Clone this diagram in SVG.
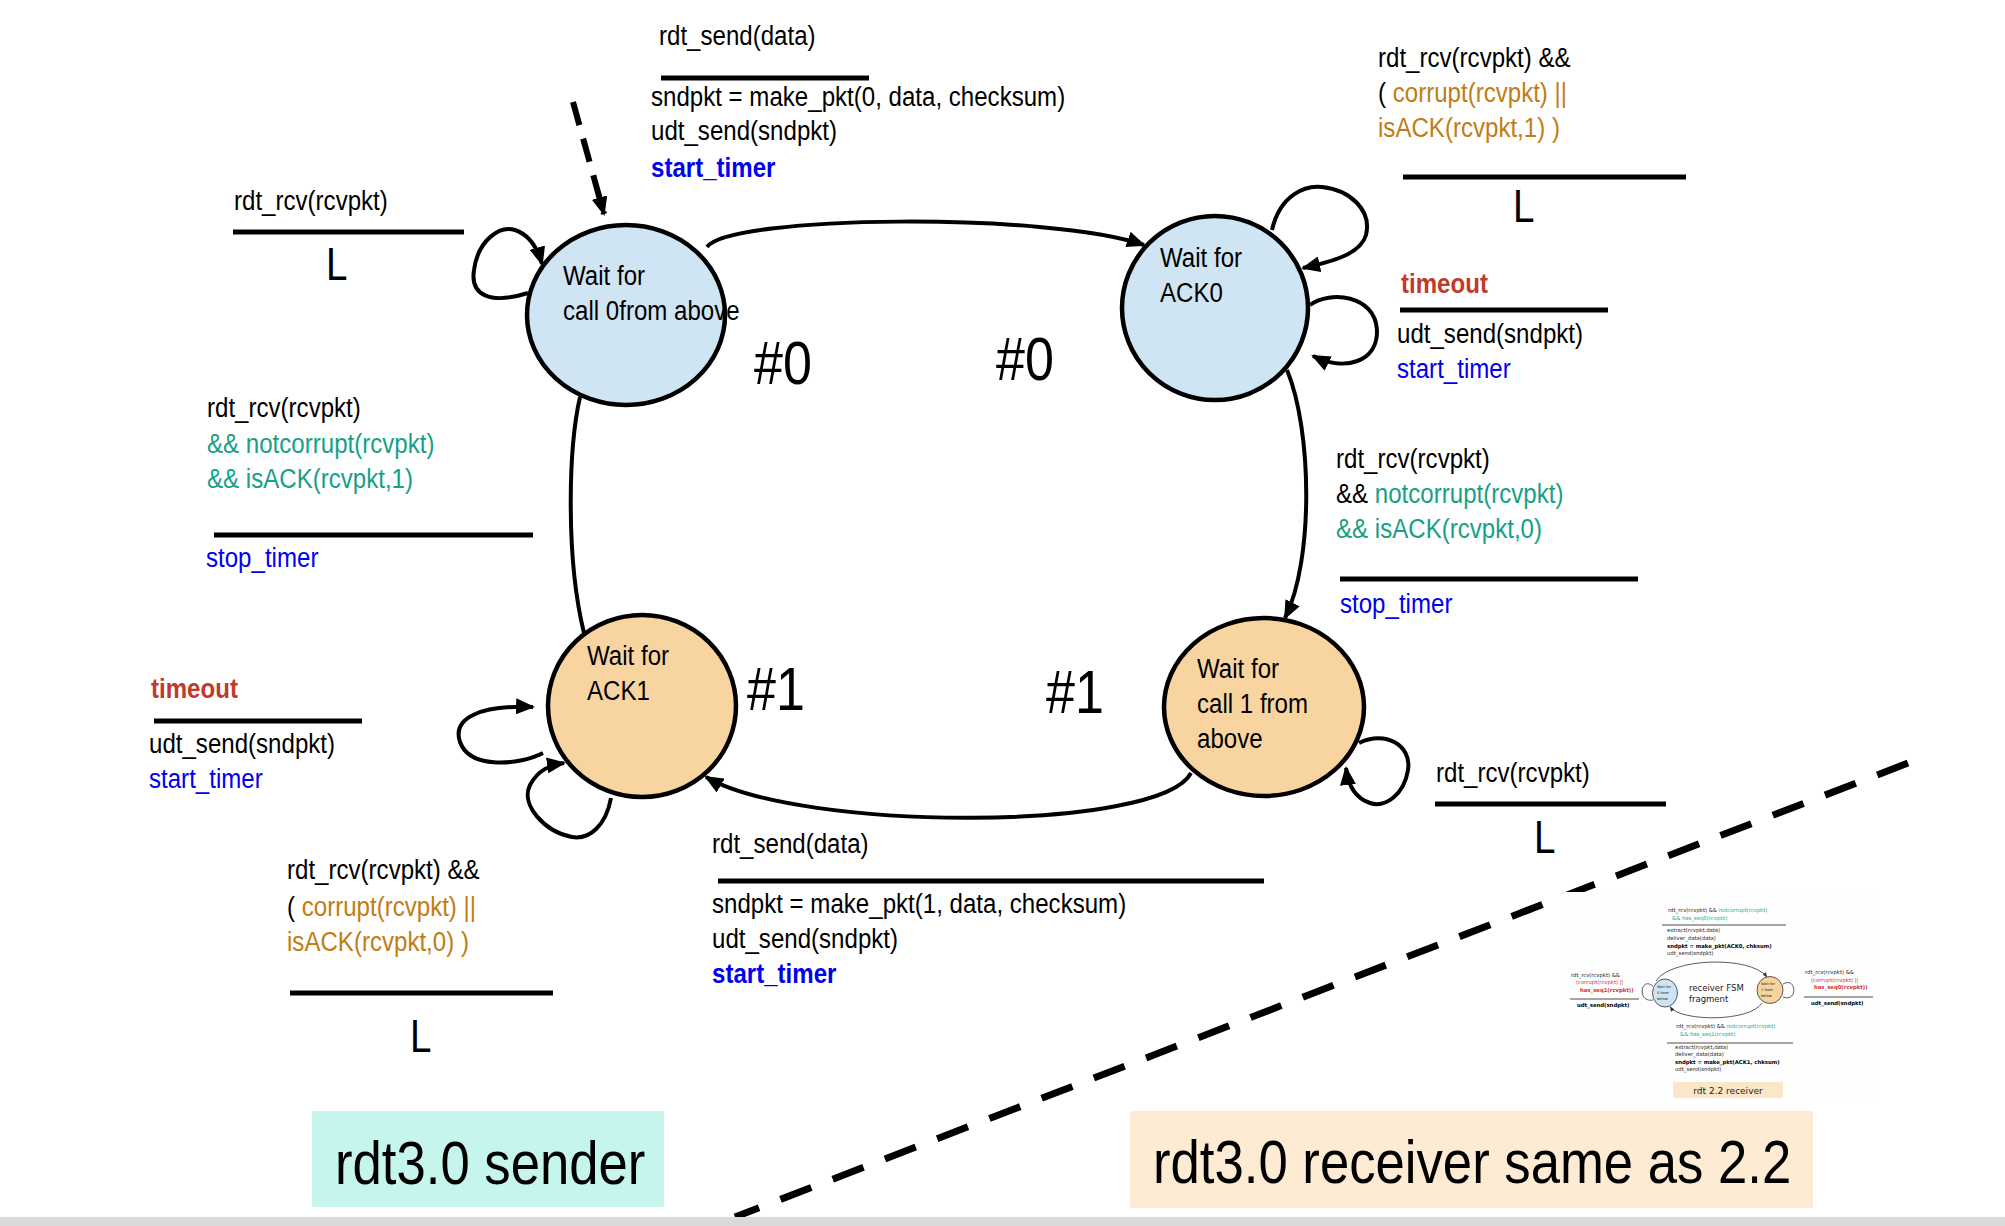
<svg xmlns="http://www.w3.org/2000/svg" width="2005" height="1226" viewBox="0 0 2005 1226">
<defs>
<style>
.t{font-family:"Liberation Sans",Arial,sans-serif;font-size:28px;fill:#000}
.b{font-weight:bold}
.blue{fill:#0000f0}
.green{fill:#17a085}
.orange{fill:#c17d14}
.red{fill:#c0392b}
.lam{font-size:46px}
.hash{font-size:62px}
.title{font-size:62px}
.bar{stroke:#000;stroke-width:5}
.edge{fill:none;stroke:#000;stroke-width:4}
.st{stroke:#000;stroke-width:4.5}
.blueN{fill:#d0e5f3}
.orangeN{fill:#f8d5a0}
.th{font-family:"DejaVu Sans",sans-serif;font-size:5.3px;fill:#222}
.thb{font-weight:bold;fill:#000}
.thg{fill:#1aa88a}
.thr{fill:#d03030}
.thbar{stroke:#222;stroke-width:0.8}
.thedge{fill:none;stroke:#333;stroke-width:0.8}
</style>
<marker id="arr" markerUnits="userSpaceOnUse" markerWidth="20" markerHeight="16" refX="17" refY="8" orient="auto">
<path d="M0,0 L19,8 L0,16 z" fill="#000"/>
</marker>
<marker id="arrs" markerUnits="userSpaceOnUse" markerWidth="5" markerHeight="4" refX="4.5" refY="2" orient="auto">
<path d="M0,0 L5,2 L0,4 z" fill="#333"/>
</marker>
</defs>
<rect width="2005" height="1226" fill="#fff"/>

<!-- divider dashed line -->
<path d="M1908,763 L735,1217" stroke="#000" stroke-width="7" stroke-dasharray="33 23" fill="none"/>

<!-- connectors -->
<g id="connectors">
<path d="M573,102 L604,214" fill="none" stroke="#000" stroke-width="6" stroke-dasharray="24 14" marker-end="url(#arr)"/>
<path class="edge" d="M707,247 C730,215 1050,212 1144,245" marker-end="url(#arr)"/>
<path class="edge" d="M1287,370 C1312,430 1314,560 1285,618" marker-end="url(#arr)"/>
<path class="edge" d="M1191,773 C1160,832 800,832 706,777" marker-end="url(#arr)"/>
<path class="edge" d="M580,397 C568,450 566,560 584,633"/>
<path class="edge" d="M528,293 C490,305 470,295 474,270 C478,240 500,225 515,230 C530,235 538,250 542,264" marker-end="url(#arr)"/>
<path class="edge" d="M1272,230 C1280,195 1305,185 1322,187 C1350,190 1372,210 1366,235 C1360,255 1330,262 1303,268" marker-end="url(#arr)"/>
<path class="edge" d="M1310,305 C1330,290 1375,295 1377,330 C1378,362 1345,372 1313,356" marker-end="url(#arr)"/>
<path class="edge" d="M1359,743 C1385,730 1412,745 1408,770 C1404,795 1385,808 1370,803 C1355,798 1348,785 1346,768" marker-end="url(#arr)"/>
<path class="edge" d="M543,753 C520,765 470,770 460,742 C452,718 480,705 533,707" marker-end="url(#arr)"/>
<path class="edge" d="M611,798 C606,825 590,840 572,837 C545,832 520,805 530,785 C538,770 550,765 564,763" marker-end="url(#arr)"/>
</g>

<!-- nodes -->
<g id="node-wait-call0">
<ellipse class="blueN st" cx="626" cy="315" rx="99" ry="90"/>
<text class="t" transform="matrix(.86 0 0 1 563 285)">Wait for</text>
<text class="t" transform="matrix(.86 0 0 1 563 320)">call 0from above</text>
</g>
<g id="node-wait-ack0">
<ellipse class="blueN st" cx="1215" cy="308" rx="93" ry="92"/>
<text class="t" transform="matrix(.86 0 0 1 1160 267)">Wait for</text>
<text class="t" transform="matrix(.86 0 0 1 1160 302)">ACK0</text>
</g>
<g id="node-wait-ack1">
<ellipse class="orangeN st" cx="642" cy="706" rx="94" ry="91"/>
<text class="t" transform="matrix(.86 0 0 1 587 665)">Wait for</text>
<text class="t" transform="matrix(.86 0 0 1 587 700)">ACK1</text>
</g>
<g id="node-wait-call1">
<ellipse class="orangeN st" cx="1264" cy="707" rx="100" ry="89"/>
<text class="t" transform="matrix(.86 0 0 1 1197 678)">Wait for</text>
<text class="t" transform="matrix(.86 0 0 1 1197 713)">call 1 from</text>
<text class="t" transform="matrix(.86 0 0 1 1197 748)">above</text>
</g>

<!-- labels -->
<g id="labels">
<text class="t" transform="matrix(.86 0 0 1 659 45)">rdt_send(data)</text>
<line class="bar" x1="661" y1="78" x2="869" y2="78"/>
<text class="t" transform="matrix(.86 0 0 1 651 106)">sndpkt = make_pkt(0, data, checksum)</text>
<text class="t" transform="matrix(.86 0 0 1 651 140)">udt_send(sndpkt)</text>
<text class="t b blue" transform="matrix(.86 0 0 1 651 177)">start_timer</text>

<text class="t" transform="matrix(.86 0 0 1 234 210)">rdt_rcv(rcvpkt)</text>
<line class="bar" x1="233" y1="232" x2="464" y2="232"/>
<text class="t lam" transform="matrix(.84 0 0 1 326 280)">L</text>

<text class="t" transform="matrix(.86 0 0 1 207 417)">rdt_rcv(rcvpkt)</text>
<text class="t green" transform="matrix(.86 0 0 1 207 453)">&amp;&amp; notcorrupt(rcvpkt)</text>
<text class="t green" transform="matrix(.86 0 0 1 207 488)">&amp;&amp; isACK(rcvpkt,1)</text>
<line class="bar" x1="214" y1="535" x2="533" y2="535"/>
<text class="t blue" transform="matrix(.86 0 0 1 206 567)">stop_timer</text>

<text class="t" transform="matrix(.86 0 0 1 1378 67)">rdt_rcv(rcvpkt) &amp;&amp;</text>
<text class="t" transform="matrix(.86 0 0 1 1378 102)">( <tspan class="orange">corrupt(rcvpkt) ||</tspan></text>
<text class="t orange" transform="matrix(.86 0 0 1 1378 137)">isACK(rcvpkt,1) )</text>
<line class="bar" x1="1403" y1="177" x2="1686" y2="177"/>
<text class="t lam" transform="matrix(.84 0 0 1 1513 222)">L</text>
<text class="t b red" transform="matrix(.86 0 0 1 1401 293)">timeout</text>
<line class="bar" x1="1400" y1="310" x2="1608" y2="310"/>
<text class="t" transform="matrix(.86 0 0 1 1397 343)">udt_send(sndpkt)</text>
<text class="t blue" transform="matrix(.86 0 0 1 1397 378)">start_timer</text>

<text class="t" transform="matrix(.86 0 0 1 1336 468)">rdt_rcv(rcvpkt)</text>
<text class="t" transform="matrix(.86 0 0 1 1336 503)">&amp;&amp; <tspan class="green">notcorrupt(rcvpkt)</tspan></text>
<text class="t green" transform="matrix(.86 0 0 1 1336 538)">&amp;&amp; isACK(rcvpkt,0)</text>
<line class="bar" x1="1340" y1="579" x2="1638" y2="579"/>
<text class="t blue" transform="matrix(.86 0 0 1 1340 613)">stop_timer</text>

<text class="t" transform="matrix(.86 0 0 1 1436 782)">rdt_rcv(rcvpkt)</text>
<line class="bar" x1="1435" y1="804" x2="1666" y2="804"/>
<text class="t lam" transform="matrix(.84 0 0 1 1534 853)">L</text>

<text class="t" transform="matrix(.86 0 0 1 712 853)">rdt_send(data)</text>
<line class="bar" x1="718" y1="881" x2="1264" y2="881"/>
<text class="t" transform="matrix(.86 0 0 1 712 913)">sndpkt = make_pkt(1, data, checksum)</text>
<text class="t" transform="matrix(.86 0 0 1 712 948)">udt_send(sndpkt)</text>
<text class="t b blue" transform="matrix(.86 0 0 1 712 983)">start_timer</text>

<text class="t b red" transform="matrix(.86 0 0 1 151 698)">timeout</text>
<line class="bar" x1="154" y1="721" x2="362" y2="721"/>
<text class="t" transform="matrix(.86 0 0 1 149 753)">udt_send(sndpkt)</text>
<text class="t blue" transform="matrix(.86 0 0 1 149 788)">start_timer</text>

<text class="t" transform="matrix(.86 0 0 1 287 879)">rdt_rcv(rcvpkt) &amp;&amp;</text>
<text class="t" transform="matrix(.86 0 0 1 287 916)">( <tspan class="orange">corrupt(rcvpkt) ||</tspan></text>
<text class="t orange" transform="matrix(.86 0 0 1 287 951)">isACK(rcvpkt,0) )</text>
<line class="bar" x1="290" y1="993" x2="553" y2="993"/>
<text class="t lam" transform="matrix(.84 0 0 1 410 1052)">L</text>

<text class="t hash" transform="matrix(.84 0 0 1 754 384)">#0</text>
<text class="t hash" transform="matrix(.84 0 0 1 996 380)">#0</text>
<text class="t hash" transform="matrix(.84 0 0 1 747 710)">#1</text>
<text class="t hash" transform="matrix(.84 0 0 1 1046 713)">#1</text>
</g>

<!-- rdt 2.2 receiver thumbnail -->
<g id="thumbnail">
<rect x="1563" y="892" width="315" height="208" fill="#fefefe"/>
<text class="th" x="1668" y="912">rdt_rcv(rcvpkt) &amp;&amp; <tspan class="thg">notcorrupt(rcvpkt)</tspan></text>
<text class="th thg" x="1672" y="920">&amp;&amp; has_seq0(rcvpkt)</text>
<line class="thbar" x1="1662" y1="925" x2="1786" y2="925"/>
<text class="th" x="1667" y="932">extract(rcvpkt,data)</text>
<text class="th" x="1667" y="940">deliver_data(data)</text>
<text class="th thb" x="1667" y="948">sndpkt = make_pkt(ACK0, chksum)</text>
<text class="th" x="1667" y="955">udt_send(sndpkt)</text>
<path class="thedge" d="M1656,981 C1670,958 1750,955 1767,977" marker-end="url(#arrs)"/>
<path class="thedge" d="M1762,1003 C1750,1022 1682,1022 1670,1007" marker-end="url(#arrs)"/>
<path class="thedge" d="M1653,986 C1640,976 1637,1003 1653,1000"/>
<path class="thedge" d="M1783,984 C1797,976 1798,1003 1783,997"/>
<ellipse cx="1665" cy="993" rx="12.5" ry="14" fill="#cfe4f3" stroke="#333" stroke-width="0.8"/>
<ellipse cx="1770" cy="990" rx="13" ry="13.5" fill="#f8d49c" stroke="#333" stroke-width="0.8"/>
<text class="th" style="font-size:3.6px" x="1657" y="988">Wait for</text>
<text class="th" style="font-size:3.6px" x="1657" y="994">0 from</text>
<text class="th" style="font-size:3.6px" x="1657" y="1000">below</text>
<text class="th" style="font-size:3.6px" x="1761" y="985">Wait for</text>
<text class="th" style="font-size:3.6px" x="1761" y="991">1 from</text>
<text class="th" style="font-size:3.6px" x="1761" y="997">below</text>
<text class="th" style="font-size:8.5px" x="1689" y="991">receiver FSM</text>
<text class="th" style="font-size:8.5px" x="1689" y="1002">fragment</text>
<text class="th" x="1571" y="977">rdt_rcv(rcvpkt) &amp;&amp;</text>
<text class="th thr" x="1576" y="984">(corrupt(rcvpkt) ||</text>
<text class="th thr thb" style="fill:#d03030" x="1580" y="992">has_seq1(rcvpkt))</text>
<line class="thbar" x1="1570" y1="999" x2="1639" y2="999"/>
<text class="th thb" x="1577" y="1007">udt_send(sndpkt)</text>
<text class="th" x="1805" y="974">rdt_rcv(rcvpkt) &amp;&amp;</text>
<text class="th thr" x="1811" y="982">(corrupt(rcvpkt) ||</text>
<text class="th thr thb" style="fill:#d03030" x="1814" y="989">has_seq0(rcvpkt))</text>
<line class="thbar" x1="1804" y1="997" x2="1873" y2="997"/>
<text class="th thb" x="1811" y="1005">udt_send(sndpkt)</text>
<text class="th" x="1676" y="1028">rdt_rcv(rcvpkt) &amp;&amp; <tspan class="thg">notcorrupt(rcvpkt)</tspan></text>
<text class="th thg" x="1680" y="1036">&amp;&amp; has_seq1(rcvpkt)</text>
<line class="thbar" x1="1667" y1="1043" x2="1793" y2="1043"/>
<text class="th" x="1675" y="1049">extract(rcvpkt,data)</text>
<text class="th" x="1675" y="1056">deliver_data(data)</text>
<text class="th thb" x="1675" y="1064">sndpkt = make_pkt(ACK1, chksum)</text>
<text class="th" x="1675" y="1071">udt_send(sndpkt)</text>
<rect x="1673" y="1082" width="110" height="16" fill="#fce6c8"/>
<text class="th" style="font-size:9px" x="1728" y="1094" text-anchor="middle">rdt 2.2 receiver</text>
</g>

<!-- captions -->
<g id="caption-sender">
<rect x="312" y="1111" width="352" height="96" fill="#c5f5ec"/>
<text class="t title" transform="matrix(.85 0 0 1 335 1184)">rdt3.0 sender</text>
</g>
<g id="caption-receiver">
<rect x="1130" y="1111" width="683" height="97" fill="#fdebd3"/>
<text class="t title" transform="matrix(.85 0 0 1 1153 1183)">rdt3.0 receiver same as 2.2</text>
</g>
<rect x="0" y="1217" width="2005" height="9" fill="#dadada"/>
</svg>
